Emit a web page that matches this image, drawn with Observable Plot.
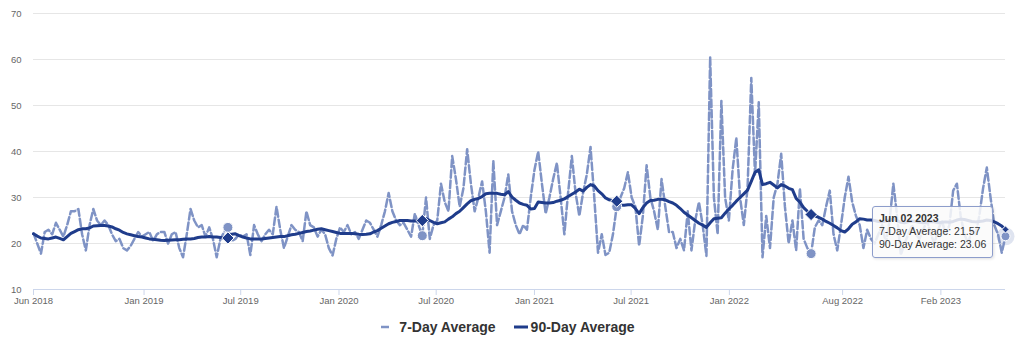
<!DOCTYPE html>
<html><head><meta charset="utf-8">
<script src="https://cdn.jsdelivr.net/npm/d3@7"></script>
<script src="https://cdn.jsdelivr.net/npm/@observablehq/plot@0.6"></script>
<style>
body{margin:0;background:#fff;font-family:"Liberation Sans",Arial,Helvetica,sans-serif;}
#wrap{position:relative;width:1024px;height:341px;overflow:hidden;}
#legend{position:absolute;left:0;top:316px;width:1024px;height:22px;display:flex;justify-content:center;align-items:center;transform:translateX(-4px);}
.item{display:flex;align-items:center;font-weight:bold;font-size:14px;color:#333;}
.item svg{margin-right:2px;display:block}
.item + .item{margin-left:17px}
#tip{position:absolute;box-sizing:border-box;width:121px;height:52px;padding:5.5px 6px;background:rgba(250,250,250,0.86);border:1px solid #8d9dcb;border-radius:3px;font-size:10.5px;line-height:13px;color:#333;white-space:nowrap;box-shadow:1px 1px 3px rgba(0,0,0,0.12);}
#tip b{font-weight:bold}
</style></head>
<body>
<div id="wrap"></div>
<script>
const seriesNames = ["7-Day Average", "90-Day Average"];
const colors = ["#7f93c5", "#1f3c8b"];
const startDate = "2018-06-08"; // first weekly point (Friday)
const yTicks = [10, 20, 30, 40, 50, 60, 70];
const xTickDates = ["2018-06-08","2019-01-01","2019-07-01","2020-01-01","2020-07-01","2021-01-01","2021-07-01","2022-01-01","2022-08-01","2023-02-01"];
const xTickLabels = ["Jun 2018","Jan 2019","Jul 2019","Jan 2020","Jul 2020","Jan 2021","Jul 2021","Jan 2022","Aug 2022","Feb 2023"];

const sevenDay = [
22.2,20,17.8,22.5,23,22,24.5,23,21.5,24,27,27,27.5,22,18.5,24,27.5,25,24,25,24,22,20.5,21,19,18.5,19.5,
21,22.5,21.5,22,22.5,20.5,22,22.5,22.5,20,22,22.5,19,17,22,27.5,25,23.5,24,21.5,23.5,21,17,21,22.5,23.5,
20.5,21,22,21.5,22,17.5,24,22,20.5,22,23,22,28,23,19,21.5,24,23,22.5,20.5,27,24,23.5,21.5,23,22,
19,17.4,21,23.5,22.5,24,22,22.5,21,23,25,24.5,23,21.5,24,27,31,27,25,24,24.5,23,21.5,26.5,24,21.7,
30,21,24,25,33,29,27,39,34,28,32,40.5,33,27,30,33.5,27,18,38,24,27,30,35,27,24,22,
24,23,30,36,40,33,26.5,30,34,37.5,30,22,31,39,31,26,31,35,41,30,18,22,17.5,18,22,28,
30,32,35.5,30,28,19.5,26,37,30,27,23,34,28,22.5,22.5,19,21,18.5,27,18.5,25,29,24,17.3,60.5,30,
22,51,30,25,36,43,30,24,32,56,35,50.7,17,26,19,30,33,39.5,28,20,25,18.5,32,21,19,17.8,
23.5,25,24,28,31.5,22,18.5,24,30,34.5,29,26,24,19,23,21,20,22,24,20,25,33,26,17.5,20,22,
24,22,21,23,25,22,20,23,25,22,24,31.5,33,26,22,20,23,22,26,32,36.5,30,24,22,18,21.57
];
const ninetyDay = [
22.1,21.6,21.2,21.1,21.0,21.2,21.4,21.1,20.8,21.5,
22.2,22.6,23.0,23.2,23.2,23.4,23.8,23.85,23.9,23.9,
23.8,23.6,23.2,22.9,22.4,22.1,21.9,21.7,21.5,21.4,
21.2,21.0,20.9,20.8,20.7,20.65,20.7,20.75,20.8,20.8,
20.9,21.0,21.0,21.1,21.3,21.4,21.4,21.5,21.4,21.4,
21.3,21.2,21.2,22.0,22.1,21.7,21.4,21.2,21.0,21.0,
21.0,21.0,21.1,21.2,21.3,21.4,21.5,21.5,21.7,21.9,
22.0,22.2,22.4,22.6,22.7,22.9,23.1,23.2,23.0,22.8,
22.6,22.4,22.2,22.2,22.2,22.2,22.1,22.0,21.95,22.0,
22.1,22.5,22.8,23.3,23.8,24.3,24.6,24.8,25.0,25.0,
25.0,24.9,24.9,24.9,25.0,25.4,25.0,24.6,24.3,24.5,
24.7,25.3,25.8,26.5,27.0,27.8,28.6,29.3,29.6,29.8,
30.2,30.8,30.9,30.9,30.9,30.7,30.6,31.3,30.1,29.4,
28.8,28.5,28.3,27.5,27.6,29.0,28.9,28.8,28.8,28.9,
29.2,29.4,29.7,30.2,30.7,31.2,31.8,31.4,32.2,32.8,
32.5,31.5,30.8,29.9,29.5,29.3,29.2,28.3,28.3,28.4,
28.4,27.6,26.5,27.8,28.8,29.35,29.4,29.6,29.6,29.5,
29.1,28.8,28.3,27.6,26.8,26.2,25.6,25.0,24.4,24.0,
23.5,24.5,25.4,25.5,25.6,26.6,27.5,28.3,29.2,30.0,
30.8,31.6,33.5,35.5,36.0,32.8,33.0,33.3,32.7,32.1,
32.8,32.5,32.0,31.7,29.8,29.0,27.8,27.0,26.3,26.0,
25.7,25.3,24.8,24.4,23.9,23.4,22.8,22.5,23.2,24.2,
24.7,25.4,25.3,25.1,25.1,25.0,24.8,24.7,24.9,25.1,
25.3,25.0,24.6,24.5,24.7,24.9,24.8,24.6,24.5,24.6,
24.8,24.7,24.5,24.6,24.7,24.6,24.8,25.1,25.3,25.2,
25.0,24.8,24.7,24.8,24.9,25.1,25.0,24.7,24.3,23.8,
23.06
];

const start = new Date(startDate + "T00:00:00Z");
const data = sevenDay.map((v, i) => ({date: d3.utcDay.offset(start, 7 * i), d7: v, d90: ninetyDay[i], i}));
const n = data.length;
const last = data[n - 1];
const yearly = data.filter(d => d.i > 0 && d.i < n - 1 && (n - 1 - d.i) % 52 === 0);
const tickDates = xTickDates.map(s => new Date(s + "T00:00:00Z"));
const labelMap = new Map(tickDates.map((d, i) => [+d, xTickLabels[i]]));

const chart = Plot.plot({
  width: 1024, height: 310,
  marginLeft: 33, marginRight: 19, marginTop: 13, marginBottom: 21,
  style: {fontFamily: "Liberation Sans, Arial, Helvetica, sans-serif", fontSize: "9.5px", color: "#666", background: "transparent"},
  x: {type: "utc", domain: [start, last.date], label: null},
  y: {domain: [10, 70], label: null},
  marks: [
    Plot.gridY(yTicks.slice(1), {stroke: "#e6e6e6", strokeOpacity: 1}),
    Plot.axisY({ticks: yTicks, tickSize: 0, tickPadding: 12, label: null}),
    Plot.ruleY([10], {stroke: "#ccd6eb"}),
    Plot.axisX({ticks: tickDates, tickFormat: d => labelMap.get(+d), tickSize: 6, tickPadding: 2, stroke: "#ccd6eb", fill: "#666", label: null}),
    Plot.line(data, {x: "date", y: "d7", stroke: colors[0], strokeWidth: 2.5, strokeDasharray: "7.5,3", strokeLinejoin: "round"}),
    Plot.line(data, {x: "date", y: "d90", stroke: colors[1], strokeWidth: 3, strokeLinejoin: "round"}),
    Plot.dot(yearly, {x: "date", y: "d7", r: 5, fill: colors[0], stroke: "white", strokeWidth: 1}),
    Plot.dot(yearly, {x: "date", y: "d90", r: 5.5, symbol: "diamond2", fill: colors[1], stroke: "white", strokeWidth: 1}),
    Plot.dot([last], {x: "date", y: "d7", r: 9, fill: colors[0], fillOpacity: 0.25}),
    Plot.dot([last], {x: "date", y: "d7", r: 4.5, fill: colors[0], stroke: "white", strokeWidth: 1}),
    Plot.dot([last], {x: "date", y: "d90", r: 3.2, symbol: "diamond2", fill: colors[1], stroke: "white", strokeWidth: 1})
  ]
});
const wrap = document.getElementById("wrap");
wrap.appendChild(chart);

// tooltip for the last point
const px = chart.scale("x").apply(last.date);
const py = chart.scale("y").apply(last.d7);
const tip = document.createElement("div");
tip.id = "tip";
tip.style.left = (px - 133) + "px";
tip.style.top = (py - 30) + "px";
const fmt = d3.utcFormat("%b %d %Y");
tip.innerHTML = `<b>${fmt(last.date)}</b><br>${seriesNames[0]}: ${last.d7.toFixed(2)}<br>${seriesNames[1]}: ${last.d90.toFixed(2)}`;
wrap.appendChild(tip);

// legend
const legend = document.createElement("div");
legend.id = "legend";
seriesNames.forEach((name, k) => {
  const item = document.createElement("div");
  item.className = "item";
  const dash = k === 0 ? 'stroke-dasharray="8,8"' : '';
  const sw = k === 0 ? 2.5 : 3;
  item.innerHTML = `<svg width="16" height="10"><line x1="${k === 0 ? 0 : 1}" x2="${k === 0 ? 16 : 15}" y1="5" y2="5" stroke="${colors[k]}" stroke-width="${sw}" ${dash}/></svg><span>${name}</span>`;
  legend.appendChild(item);
});
wrap.appendChild(legend);
</script>
</body></html>
